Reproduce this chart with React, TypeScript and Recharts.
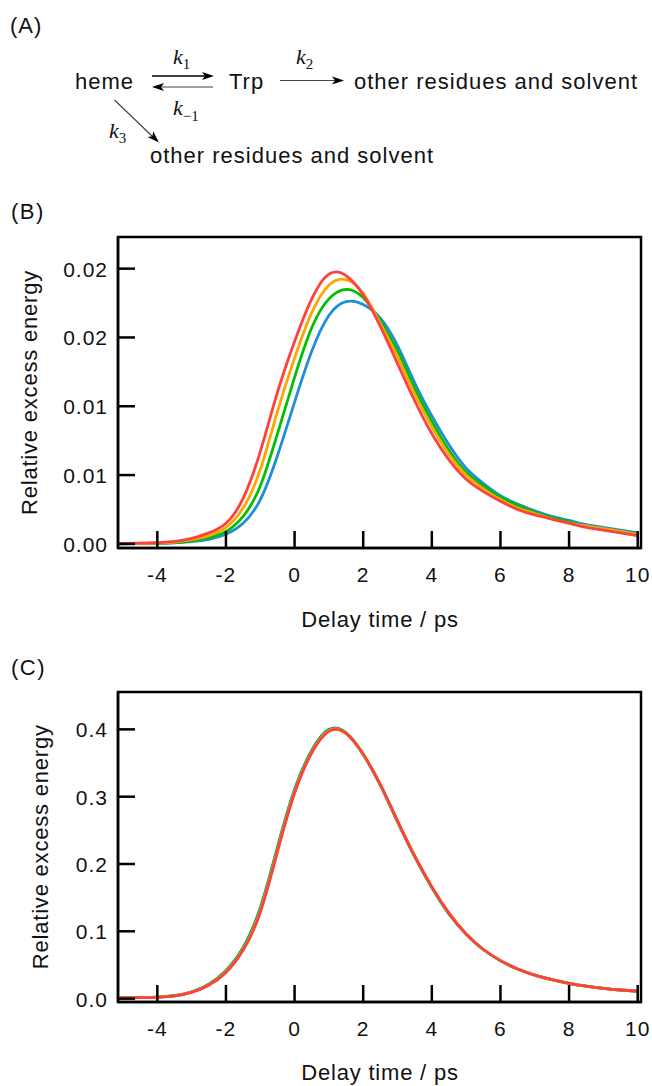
import React from 'react';
import { LineChart, Line, XAxis, YAxis, ReferenceArea } from 'recharts';

// ---------- data ----------
const TIME = [-5.1, -4.5, -4, -3.5, -3, -2.5, -2, -1.5, -1, -0.5, 0, 0.5, 1, 1.5, 2, 2.5, 3, 3.5, 4, 4.5, 5, 5.5, 6, 6.5, 7, 7.5, 8, 8.5, 9, 9.5, 10];

const B_RED = [0.00003, 0.00005, 0.00008, 0.00018, 0.0004, 0.0008, 0.0015, 0.0033, 0.0067, 0.0110, 0.0147, 0.0178, 0.0196, 0.0195, 0.0181, 0.0158, 0.0131, 0.0104, 0.0080, 0.0061, 0.0047, 0.0038, 0.0031, 0.0025, 0.0021, 0.0018, 0.0015, 0.0012, 0.0010, 0.0008, 0.0006];
const B_ORANGE = [0.00002, 0.00004, 0.00006, 0.00013, 0.0003, 0.0006, 0.0012, 0.0026, 0.0054, 0.0096, 0.0135, 0.0168, 0.0188, 0.0192, 0.0182, 0.0160, 0.0136, 0.0109, 0.0085, 0.0065, 0.0050, 0.0040, 0.0032, 0.0026, 0.0022, 0.0018, 0.0015, 0.0013, 0.0011, 0.0009, 0.00065];
const B_GREEN = [0.00001, 0.00003, 0.00005, 0.0001, 0.00022, 0.00045, 0.0009, 0.0020, 0.0042, 0.0080, 0.0121, 0.0157, 0.0178, 0.0185, 0.0179, 0.0162, 0.0140, 0.0113, 0.0089, 0.0068, 0.0052, 0.0042, 0.0034, 0.0028, 0.0023, 0.0019, 0.0016, 0.0013, 0.0011, 0.0009, 0.0007];
const B_BLUE = [0.00001, 0.00002, 0.00004, 0.00007, 0.00016, 0.00033, 0.0007, 0.0015, 0.0032, 0.0064, 0.0103, 0.0140, 0.0166, 0.0176, 0.0174, 0.0164, 0.0144, 0.0117, 0.0093, 0.0072, 0.0055, 0.0044, 0.0035, 0.0029, 0.0024, 0.0020, 0.0017, 0.0014, 0.0012, 0.0010, 0.0008];

const C_RED = [0.001, 0.0015, 0.002, 0.004, 0.0094, 0.020, 0.039, 0.072, 0.128, 0.218, 0.305, 0.365, 0.397, 0.394, 0.363, 0.318, 0.264, 0.212, 0.166, 0.127, 0.096, 0.073, 0.0565, 0.044, 0.035, 0.0282, 0.0228, 0.0187, 0.0154, 0.0128, 0.011];
const C_ORANGE = [0.001, 0.0015, 0.0021, 0.0041, 0.0096, 0.0204, 0.040, 0.073, 0.130, 0.220, 0.307, 0.366, 0.398, 0.394, 0.363, 0.318, 0.264, 0.212, 0.166, 0.127, 0.096, 0.073, 0.0565, 0.044, 0.035, 0.0282, 0.0228, 0.0187, 0.0154, 0.0128, 0.011];
const C_GREEN = [0.001, 0.0016, 0.0022, 0.0043, 0.0099, 0.021, 0.041, 0.075, 0.133, 0.223, 0.309, 0.368, 0.399, 0.395, 0.363, 0.317, 0.263, 0.211, 0.165, 0.126, 0.096, 0.073, 0.0565, 0.044, 0.035, 0.0282, 0.0228, 0.0187, 0.0154, 0.0128, 0.011];
const C_BLUE = [0.001, 0.0016, 0.0023, 0.0044, 0.0101, 0.0215, 0.042, 0.076, 0.135, 0.225, 0.311, 0.369, 0.400, 0.395, 0.363, 0.317, 0.263, 0.211, 0.165, 0.126, 0.096, 0.073, 0.0565, 0.044, 0.035, 0.0282, 0.0228, 0.0187, 0.0154, 0.0128, 0.011];

const X_TICKS = [-4, -2, 0, 2, 4, 6, 8, 10];
const X_TICK_LABELS = ['-4', '-2', '0', '2', '4', '6', '8', '10'];
const B_Y_TICKS = [0, 0.005, 0.01, 0.015, 0.02];
const B_Y_TICK_LABELS = ['0.00', '0.01', '0.01', '0.02', '0.02'];
const C_Y_TICKS = [0, 0.1, 0.2, 0.3, 0.4];
const C_Y_TICK_LABELS = ['0.0', '0.1', '0.2', '0.3', '0.4'];

const X_DOMAIN: [number, number] = [-5.146, 10.096];
const B_Y_DOMAIN: [number, number] = [-0.0003, 0.0223];
const C_Y_DOMAIN: [number, number] = [-0.005, 0.4555];

const COLORS = { red: '#ff4040', orange: '#ffa500', green: '#00c000', blue: '#1e8ed8' };

const bData = TIME.map((t, i) => ({ t, red: B_RED[i], orange: B_ORANGE[i], green: B_GREEN[i], blue: B_BLUE[i] }));
const cData = TIME.map((t, i) => ({ t, red: C_RED[i], orange: C_ORANGE[i], green: C_GREEN[i], blue: C_BLUE[i] }));

// ---------- styles ----------
const SANS = '"Liberation Sans", Arial, Helvetica, sans-serif';
const SERIF = '"Liberation Serif", "Times New Roman", serif';
const TXT = '#111';
const AXIS = { stroke: '#000', strokeWidth: 2.5 };
const TICK_LEN = 17;

const XTick = (props: any) => {
  const { x, y, payload } = props;
  const i = X_TICKS.indexOf(payload.value);
  return (
    <g>
      <line x1={x} x2={x} y1={y} y2={y - TICK_LEN} stroke="#000" strokeWidth={2.5} />
      <text x={x} y={y + 34} textAnchor="middle" fontSize={21} fontFamily={SANS} letterSpacing={1} fill={TXT}>
        {X_TICK_LABELS[i]}
      </text>
    </g>
  );
};

const makeYTick = (ticks: number[], labels: string[]) => (props: any) => {
  const { x, y, payload } = props;
  const i = ticks.indexOf(payload.value);
  return (
    <g>
      <line x1={x} x2={x + TICK_LEN} y1={y} y2={y} stroke="#000" strokeWidth={2.5} />
      <text x={x - 10} y={y + 8} textAnchor="end" fontSize={21} fontFamily={SANS} letterSpacing={1} fill={TXT}>
        {labels[i]}
      </text>
    </g>
  );
};

const BYTick = makeYTick(B_Y_TICKS, B_Y_TICK_LABELS);
const CYTick = makeYTick(C_Y_TICKS, C_Y_TICK_LABELS);

const SERIES: Array<keyof typeof COLORS> = ['blue', 'green', 'orange', 'red'];

function Panel({ data, yDomain, yTicks, yTick, top, height, marginTop, xAxisHeight }: any) {
  return (
    <div style={{ position: 'absolute', left: 0, top, width: 652, height }}>
      <LineChart width={652} height={height} data={data} margin={{ top: marginTop, right: 11, left: 0, bottom: 0 }}>
        <XAxis
          dataKey="t"
          type="number"
          domain={X_DOMAIN}
          allowDataOverflow
          ticks={X_TICKS}
          interval={0}
          tickSize={0}
          tickMargin={0}
          tickLine={false}
          tick={<XTick />}
          axisLine={AXIS}
          height={xAxisHeight}
        />
        <YAxis
          type="number"
          domain={yDomain}
          allowDataOverflow
          ticks={yTicks}
          interval={0}
          tickSize={0}
          tickMargin={0}
          tickLine={false}
          tick={yTick}
          axisLine={AXIS}
          width={118}
        />
        <ReferenceArea
          x1={X_DOMAIN[0]}
          x2={X_DOMAIN[1]}
          y1={yDomain[0]}
          y2={yDomain[1]}
          fill="none"
          fillOpacity={0}
          stroke="#000"
          strokeWidth={2.5}
          ifOverflow="visible"
        />
        {SERIES.map((k) => (
          <Line key={k} type="natural" dataKey={k} stroke={COLORS[k]} strokeWidth={2.8} dot={false} activeDot={false} isAnimationActive={false} />
        ))}
      </LineChart>
    </div>
  );
}

function ArrowHead({ x, y, angle }: { x: number; y: number; angle: number }) {
  return (
    <polygon
      points="0,0 -12,-4 -9,0 -12,4"
      fill="#000"
      transform={`translate(${x},${y}) rotate(${angle})`}
    />
  );
}

function KLabel({ x, y, sub, subDy = 5 }: { x: number; y: number; sub: string; subDy?: number }) {
  return (
    <text x={x} y={y} fontFamily={SERIF} fontSize={22} fill={TXT}>
      <tspan fontStyle="italic">k</tspan>
      <tspan fontSize={15} dy={subDy}>{sub}</tspan>
    </text>
  );
}

function Scheme() {
  const t = { fontFamily: SANS, fontSize: 22, letterSpacing: 1, fill: TXT } as any;
  return (
    <svg width={652} height={185} style={{ position: 'absolute', left: 0, top: 0 }}>
      <text x={10} y={33} {...t}>(A)</text>
      <text x={75} y={89} {...t}>heme</text>
      <text x={229} y={89} {...t}>Trp</text>
      <text x={354} y={89} {...t}>other residues and solvent</text>
      <text x={150} y={163} {...t}>other residues and solvent</text>

      {/* k1 forward */}
      <line x1={152} y1={76} x2={206} y2={76} stroke="#000" strokeWidth={1.6} />
      <ArrowHead x={214} y={76} angle={0} />
      {/* k-1 backward */}
      <line x1={160} y1={87} x2={213} y2={87} stroke="#444" strokeWidth={1.2} />
      <ArrowHead x={152} y={87} angle={180} />
      {/* k2 */}
      <line x1={280} y1={80.5} x2={336} y2={80.5} stroke="#444" strokeWidth={1.2} />
      <ArrowHead x={344} y={80.5} angle={0} />
      {/* k3 diagonal */}
      <line x1={114.5} y1={100} x2={153} y2={137} stroke="#444" strokeWidth={1.2} />
      <ArrowHead x={159} y={142.5} angle={43.8} />

      <KLabel x={173} y={64} sub="1" />
      <KLabel x={296} y={64} sub="2" />
      <KLabel x={173} y={115} sub="−1" subDy={6} />
      <KLabel x={109} y={138} sub="3" />
    </svg>
  );
}

function Titles() {
  const t = { fontFamily: SANS, fill: TXT } as any;
  return (
    <svg width={652} height={1086} style={{ position: 'absolute', left: 0, top: 0, pointerEvents: 'none' }}>
      <text x={11} y={219} fontSize={22} letterSpacing={1.5} {...t}>(B)</text>
      <text x={11} y={675} fontSize={22} letterSpacing={1.5} {...t}>(C)</text>
      <text x={380} y={627} textAnchor="middle" fontSize={22} letterSpacing={0.8} {...t}>Delay time / ps</text>
      <text x={380} y={1080} textAnchor="middle" fontSize={22} letterSpacing={0.8} {...t}>Delay time / ps</text>
      <text x={37} y={392.5} transform="rotate(-90 37 392.5)" textAnchor="middle" fontSize={22} letterSpacing={0.8} {...t}>Relative excess energy</text>
      <text x={48} y={846.7} transform="rotate(-90 48 846.7)" textAnchor="middle" fontSize={22} letterSpacing={0.8} {...t}>Relative excess energy</text>
    </svg>
  );
}

export default function App() {
  return (
    <div style={{ position: 'absolute', left: 0, top: 0, width: 652, height: 1086, background: '#fff', overflow: 'hidden' }}>
      <Scheme />
      <Panel data={bData} yDomain={B_Y_DOMAIN} yTicks={B_Y_TICKS} yTick={<BYTick />} top={190} height={448} marginTop={47} xAxisHeight={90} />
      <Panel data={cData} yDomain={C_Y_DOMAIN} yTicks={C_Y_TICKS} yTick={<CYTick />} top={640} height={446} marginTop={52} xAxisHeight={84} />
      <Titles />
    </div>
  );
}
